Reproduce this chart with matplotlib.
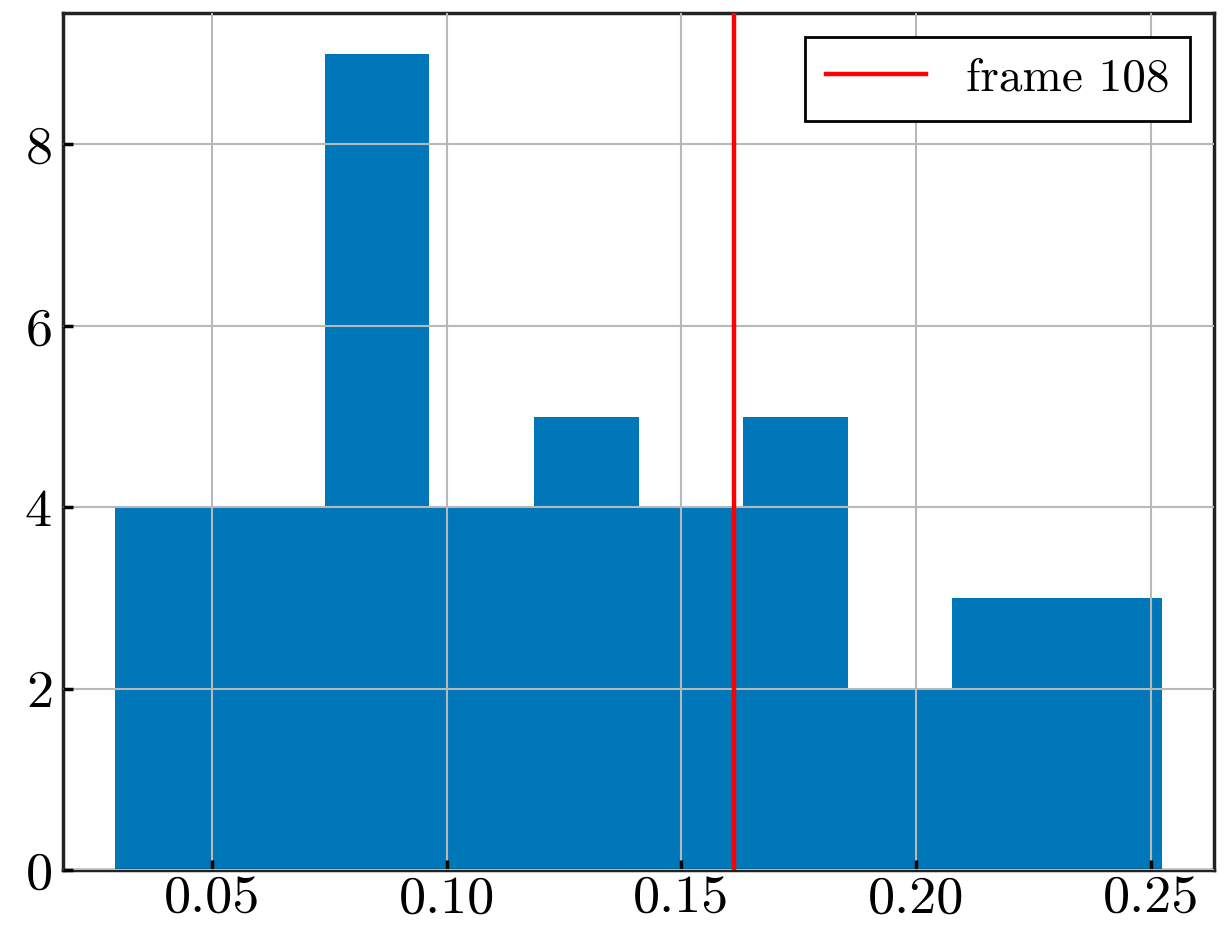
import numpy as np
import matplotlib
matplotlib.use("Agg")
import matplotlib.pyplot as plt

# Histogram data (bin edges and counts)
bin_min = 0.0294
bin_max = 0.2523
n_bins = 10
counts = [4, 4, 9, 4, 5, 4, 5, 2, 3, 3]
frame_value = 0.1613
frame_label = "frame 108"
x_ticks = [0.05, 0.10, 0.15, 0.20, 0.25]
x_tick_labels = ["0.05", "0.10", "0.15", "0.20", "0.25"]
y_ticks = [0, 2, 4, 6, 8]

plt.rcParams["font.family"] = ["cmr10", "DejaVu Serif"]
plt.rcParams["mathtext.fontset"] = "cm"
plt.rcParams["axes.formatter.use_mathtext"] = True

edges = np.linspace(bin_min, bin_max, n_bins + 1)

fig = plt.figure(figsize=(12.27, 9.27), dpi=100)
ax = fig.add_axes([63 / 1227, 1 - 870 / 927, (1214 - 63) / 1227, (870 - 13) / 927])
ax.hist(edges[:-1], bins=edges, weights=counts, color="#0077b8", zorder=1)
ax.axvline(frame_value, color="red", lw=3.2, label=frame_label, zorder=3)

ax.set_axisbelow(False)
ax.grid(True, color="#b8b8b8", lw=1.5, zorder=2)
ax.set_xticks(x_ticks)
ax.set_xticklabels(x_tick_labels)
ax.set_yticks(y_ticks)
ax.tick_params(direction="in", length=7, width=2.5, labelsize=39)
ax.tick_params(axis="x", pad=4)
ax.tick_params(axis="y", pad=8)
for s in ax.spines.values():
    s.set_linewidth(2.5)
    s.set_color("#222222")

leg = ax.legend(loc="upper right", fontsize=34, fancybox=False, framealpha=1,
                edgecolor="black", handlelength=2.1, borderpad=0.45,
                handletextpad=0.85, borderaxespad=0.5)
leg.get_frame().set_linewidth(2)

fig.savefig("out.png", dpi=100)
